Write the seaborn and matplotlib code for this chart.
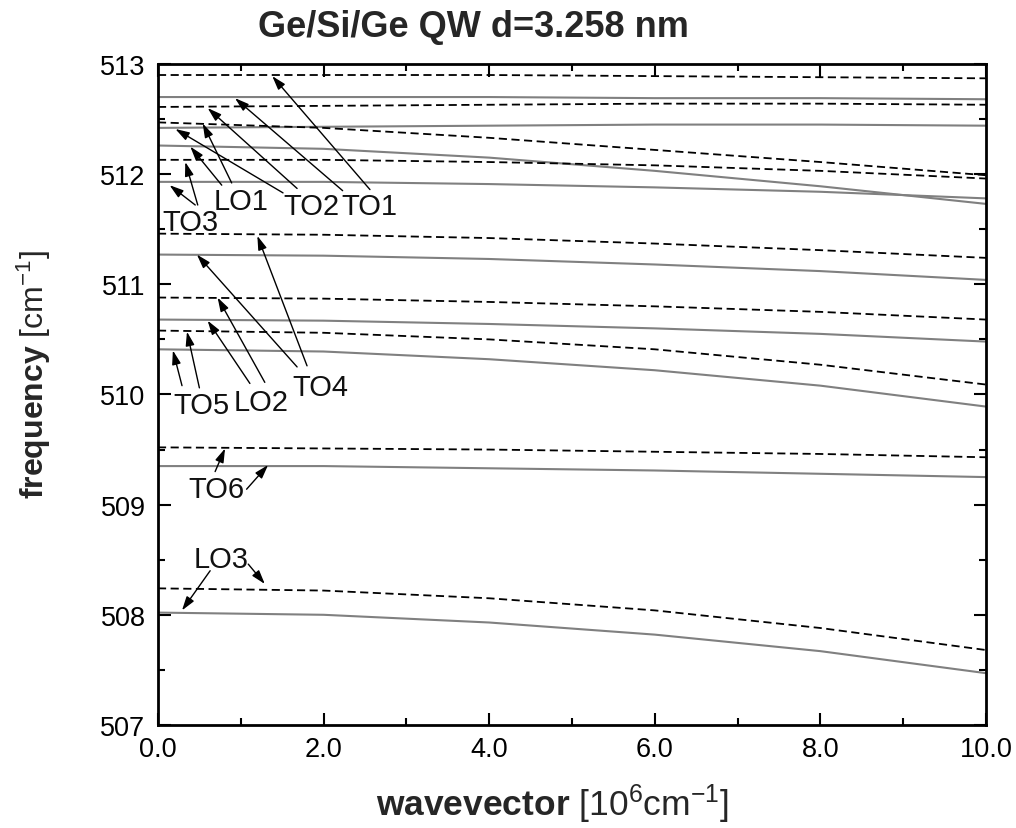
import numpy as np
import pandas as pd
import matplotlib
matplotlib.use("Agg")
import matplotlib.pyplot as plt
import seaborn as sns

# ---------------- data ----------------
k = [0, 2, 4, 6, 8, 10]   # wavevector [10^6 cm^-1]

# solid curves
sol_TO1 = [512.70, 512.70, 512.70, 512.69, 512.69, 512.68]
sol_TO2 = [512.42, 512.43, 512.44, 512.45, 512.45, 512.44]
sol_LO1 = [512.26, 512.23, 512.15, 512.03, 511.89, 511.73]
sol_TO3 = [511.93, 511.93, 511.91, 511.88, 511.84, 511.78]
sol_TO4 = [511.27, 511.26, 511.23, 511.18, 511.12, 511.04]
sol_LO2 = [510.68, 510.67, 510.64, 510.60, 510.55, 510.48]
sol_TO5 = [510.41, 510.39, 510.32, 510.22, 510.08, 509.89]
sol_TO6 = [509.35, 509.35, 509.33, 509.31, 509.28, 509.25]
sol_LO3 = [508.02, 508.00, 507.93, 507.82, 507.67, 507.47]

# dashed curves
das_TO1 = [512.90, 512.90, 512.90, 512.89, 512.88, 512.87]
das_TO2 = [512.61, 512.62, 512.63, 512.64, 512.64, 512.63]
das_LO1 = [512.47, 512.42, 512.33, 512.22, 512.11, 511.99]
das_TO3 = [512.13, 512.13, 512.11, 512.08, 512.03, 511.96]
das_TO4 = [511.46, 511.45, 511.42, 511.37, 511.31, 511.24]
das_LO2 = [510.88, 510.87, 510.84, 510.80, 510.75, 510.68]
das_TO5 = [510.58, 510.56, 510.50, 510.41, 510.27, 510.09]
das_TO6 = [509.52, 509.51, 509.50, 509.48, 509.46, 509.43]
das_LO3 = [508.24, 508.22, 508.15, 508.04, 507.88, 507.68]

solid_curves = [sol_TO1, sol_TO2, sol_LO1, sol_TO3, sol_TO4, sol_LO2, sol_TO5, sol_TO6, sol_LO3]
dashed_curves = [das_TO1, das_TO2, das_LO1, das_TO3, das_TO4, das_LO2, das_TO5, das_TO6, das_LO3]

x_ticks = [0, 2, 4, 6, 8, 10]
x_ticklabels = ["0.0", "2.0", "4.0", "6.0", "8.0", "10.0"]
y_ticks = [507, 508, 509, 510, 511, 512, 513]
y_ticklabels = ["507", "508", "509", "510", "511", "512", "513"]

# labels: (text, text position, [(tail, head), ...])
labels = [
    ("TO1", (2.55, 511.71), [((2.56, 511.86), (1.38, 512.89)), ((2.23, 511.85), (0.93, 512.69))]),
    ("TO2", (1.85, 511.71), [((1.68, 511.87), (0.60, 512.60)), ((1.51, 511.83), (0.21, 512.41))]),
    ("LO1", (1.00, 511.76), [((0.89, 511.92), (0.54, 512.46)), ((0.77, 511.90), (0.39, 512.25))]),
    ("TO3", (0.39, 511.57), [((0.48, 511.72), (0.33, 512.11)), ((0.45, 511.72), (0.14, 511.90))]),
    ("TO4", (1.96, 510.07), [((1.80, 510.26), (1.20, 511.44)), ((1.68, 510.25), (0.47, 511.27))]),
    ("LO2", (1.24, 509.93), [((1.29, 510.11), (0.72, 510.88)), ((1.11, 510.10), (0.60, 510.67))]),
    ("TO5", (0.53, 509.90), [((0.50, 510.06), (0.35, 510.57)), ((0.29, 510.08), (0.18, 510.40))]),
    ("TO6", (0.70, 509.14), [((0.69, 509.30), (0.81, 509.51)), ((1.07, 509.14), (1.33, 509.36))]),
    ("LO3", (0.76, 508.51), [((0.63, 508.40), (0.29, 508.04)), ((1.09, 508.46), (1.29, 508.28))]),
]

# ---------------- styling ----------------
sns.set_theme(style="ticks")
plt.rcParams['font.family'] = ['Liberation Sans', 'DejaVu Sans']
plt.rcParams['mathtext.fontset'] = 'custom'
plt.rcParams['mathtext.rm'] = 'Liberation Sans'
plt.rcParams['mathtext.bf'] = 'Liberation Sans:bold'
plt.rcParams['mathtext.it'] = 'Liberation Sans:italic'

fig = plt.figure(figsize=(10.16, 8.29), dpi=100)
ax = fig.add_axes([0.1555, 0.1243, 0.815, 0.7973])

for ys in solid_curves:
    sns.lineplot(x=k, y=ys, ax=ax, color="#808080", lw=1.5, linestyle="-")
for ys in dashed_curves:
    sns.lineplot(x=k, y=ys, ax=ax, color="black", lw=1.3, dashes=False,
                 linestyle=(0, (4.5, 2.5)))

ax.set_xlim(0, 10)
ax.set_ylim(507, 513)
ax.set_xticks(x_ticks)
ax.set_xticklabels(x_ticklabels)
ax.set_yticks(y_ticks)
ax.set_yticklabels(y_ticklabels)
ax.set_xticks([1, 3, 5, 7, 9], minor=True)
ax.set_yticks(np.arange(507.5, 513, 1.0), minor=True)

ax.tick_params(which='both', direction='in', top=True, right=True, width=1.5, colors='black')
ax.tick_params(which='major', length=9, labelsize=19.5)
ax.tick_params(axis='y', which='major', pad=9)
ax.tick_params(axis='x', which='major', pad=8)
ax.tick_params(which='minor', length=5)
for sp in ax.spines.values():
    sp.set_visible(True)
    sp.set_linewidth(2.0)
    sp.set_color('black')
ax.set_xlabel("")
ax.set_ylabel("")

arrow_kw = dict(arrowstyle='-|>,head_length=0.7,head_width=0.22', color='black', lw=1.0,
                shrinkA=0, shrinkB=0)
for text, pos, arrows in labels:
    ax.text(pos[0], pos[1], text, fontsize=21, ha='center', va='center', color='#111111')
    for tail, head in arrows:
        ax.annotate('', xy=head, xytext=tail, arrowprops=arrow_kw)

fig.text(0.4656, 0.967, "Ge/Si/Ge QW d=3.258 nm", fontsize=26, fontweight='bold',
         ha='center', va='center')
fig.text(0.544, 0.030, r"$\mathbf{wavevector}$ [10$^{6}$cm$^{-1}$]", fontsize=25.5,
         ha='center', va='center')
fig.text(0.033, 0.548, r"$\mathbf{frequency}$ [cm$^{-1}$]", fontsize=23,
         ha='center', va='center', rotation=90)

fig.savefig("out.png", dpi=100)
